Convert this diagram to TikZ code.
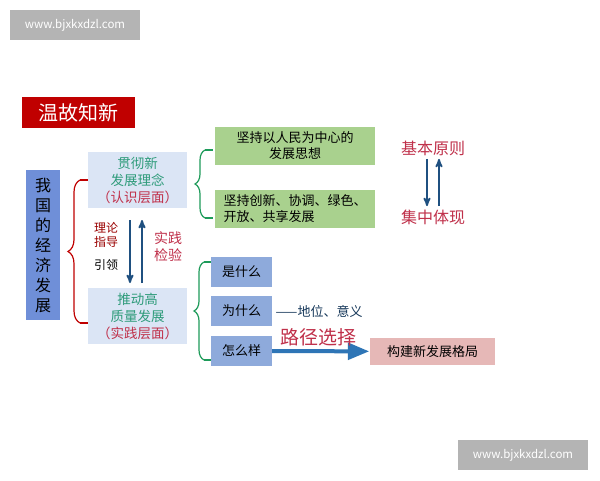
\documentclass[tikz,border=0pt]{standalone}
\usepackage{fontspec}
\setmainfont{Noto Sans CJK SC}
\usetikzlibrary{arrows,decorations.pathreplacing,positioning}

\definecolor{wmgray}{HTML}{B4B4B4}
\definecolor{titlered}{HTML}{C00000}
\definecolor{leftblue}{HTML}{6F8FD8}
\definecolor{paleblue}{HTML}{DBE5F5}
\definecolor{midblue}{HTML}{8EAADB}
\definecolor{palegreen}{HTML}{A9D18E}
\definecolor{palepink}{HTML}{E6B8B7}
\definecolor{darkarrow}{HTML}{1F5080}
\definecolor{brightarrow}{HTML}{2E75B6}
\definecolor{textgreen}{HTML}{2E9B7A}
\definecolor{textred}{HTML}{C0304A}
\definecolor{bracegreen}{HTML}{1E9B5A}

\begin{document}
\begin{tikzpicture}
    [
      x=1pt, y=-1pt,
      wmark/.style={fill=wmgray,text=white,font=\fontsize{11.5}{12}\selectfont,minimum width=130pt,minimum height=30pt},
      levelbox/.style={fill=paleblue,minimum width=99pt,minimum height=56pt,inner sep=1pt,align=center,font=\fontsize{13.5}{17}\selectfont},
      ideabox/.style={fill=palegreen,minimum width=160pt,minimum height=38pt,inner sep=2pt,font=\fontsize{13}{16}\selectfont},
      askbox/.style={fill=midblue,minimum width=61pt,minimum height=30pt,font=\fontsize{13}{15}\selectfont},
      redbrace/.style={draw=titlered,line width=1.2pt,decorate,decoration={brace,amplitude=12pt}},
      greenbrace/.style={draw=bracegreen,line width=1.2pt,decorate,decoration={brace,amplitude=10pt}},
      link/.style={->,>=stealth',darkarrow,line width=1.8pt},
      note/.style={font=\fontsize{12}{14.5}\selectfont,align=center},
    ]

    \path[use as bounding box,fill=white] (0,0) rectangle (600,480);

    \node (wm-top) [wmark] at (75,25) {www.bjxkxdzl.com};
    \node (wm-bottom) [wmark] at (523,455) {www.bjxkxdzl.com};

    \node (title) [fill=titlered,text=white,minimum width=113pt,minimum height=31pt,font=\fontsize{20}{22}\selectfont] at (78.5,112.5) {温故知新};

    \node (economy) [fill=leftblue,minimum width=34pt,minimum height=150pt,align=center,font=\fontsize{16}{20}\selectfont] at (43,245) {我\\国\\的\\经\\济\\发\\展};

    \node (concept) [levelbox] at (137.5,180) {\textcolor{textgreen}{贯彻新}\\\textcolor{textgreen}{发展理念}\\\textcolor{textred}{（认识层面）}};
    \node (practice) [levelbox] at (137.5,316) {\textcolor{textgreen}{推动高}\\\textcolor{textgreen}{质量发展}\\\textcolor{textred}{（实践层面）}};

    \coordinate (c-top) at (130,220);
    \coordinate (c-bot) at (130,283);
    \coordinate (p-bot) at (142,283);
    \coordinate (p-top) at (142,220);
    \draw[link] (c-top) -- (c-bot);
    \draw[link] (p-bot) -- (p-top);
    \node (guide) [note,text=titlered!80!black] at (106,235) {理论\\指导};
    \node (lead) [note] at (106,265) {引领};
    \node (test) [note,text=textred,font=\fontsize{14}{17}\selectfont] at (168,247) {实践\\检验};

    \coordinate (rb-low) at (80,323);
    \coordinate (rb-high) at (80,180);
    \draw[redbrace] (rb-low) -- (rb-high);
    \draw[titlered,line width=1.2pt] (rb-low) -- (88,323) (rb-high) -- (88,180);

    \node (people) [ideabox,align=center] at (295,145.5) {坚持以人民为中心的\\发展思想};
    \node (five) [ideabox,align=left] at (295,209) {坚持创新、协调、绿色、\\开放、共享发展};

    \node (principle) [text=textred,font=\fontsize{16}{18}\selectfont] at (433,148) {基本原则};
    \node (embody) [text=textred,font=\fontsize{16}{18}\selectfont] at (433,217) {集中体现};
    \draw[link] ([xshift=-6pt]principle.south) -- ([xshift=-6pt]embody.north);
    \draw[link] ([xshift=6pt]embody.north) -- ([xshift=6pt]principle.south);

    \node (what) [askbox] at (241.5,272) {是什么};
    \node (why) [askbox] at (241.5,311) {为什么};
    \node (how) [askbox] at (241.5,351) {怎么样};
    \node (meaning) [right=0pt of why,text=darkarrow!70!black,font=\fontsize{13}{15}\selectfont] {——地位、意义};

    \node (pattern) [fill=palepink,minimum width=125pt,minimum height=27pt,font=\fontsize{13}{15}\selectfont] at (432.5,351.5) {构建新发展格局};
    \draw[->,>=triangle 45,brightarrow,line width=4pt,shorten >=1pt] (how) -- (pattern);
    \node (route) [text=textred,font=\fontsize{19}{21}\selectfont] at (318,337) {路径选择};

    \coordinate (gb1-low) at (205,218);
    \coordinate (gb1-high) at (205,150);
    \draw[greenbrace] (gb1-low) -- (gb1-high);
    \draw[bracegreen,line width=1.2pt] (gb1-low) -- (213,218) (gb1-high) -- (213,150);
    \coordinate (gb2-low) at (204,360);
    \coordinate (gb2-high) at (204,262);
    \draw[greenbrace] (gb2-low) -- (gb2-high);
    \draw[bracegreen,line width=1.2pt] (gb2-low) -- (211,360) (gb2-high) -- (211,262);
\end{tikzpicture}
\end{document}
